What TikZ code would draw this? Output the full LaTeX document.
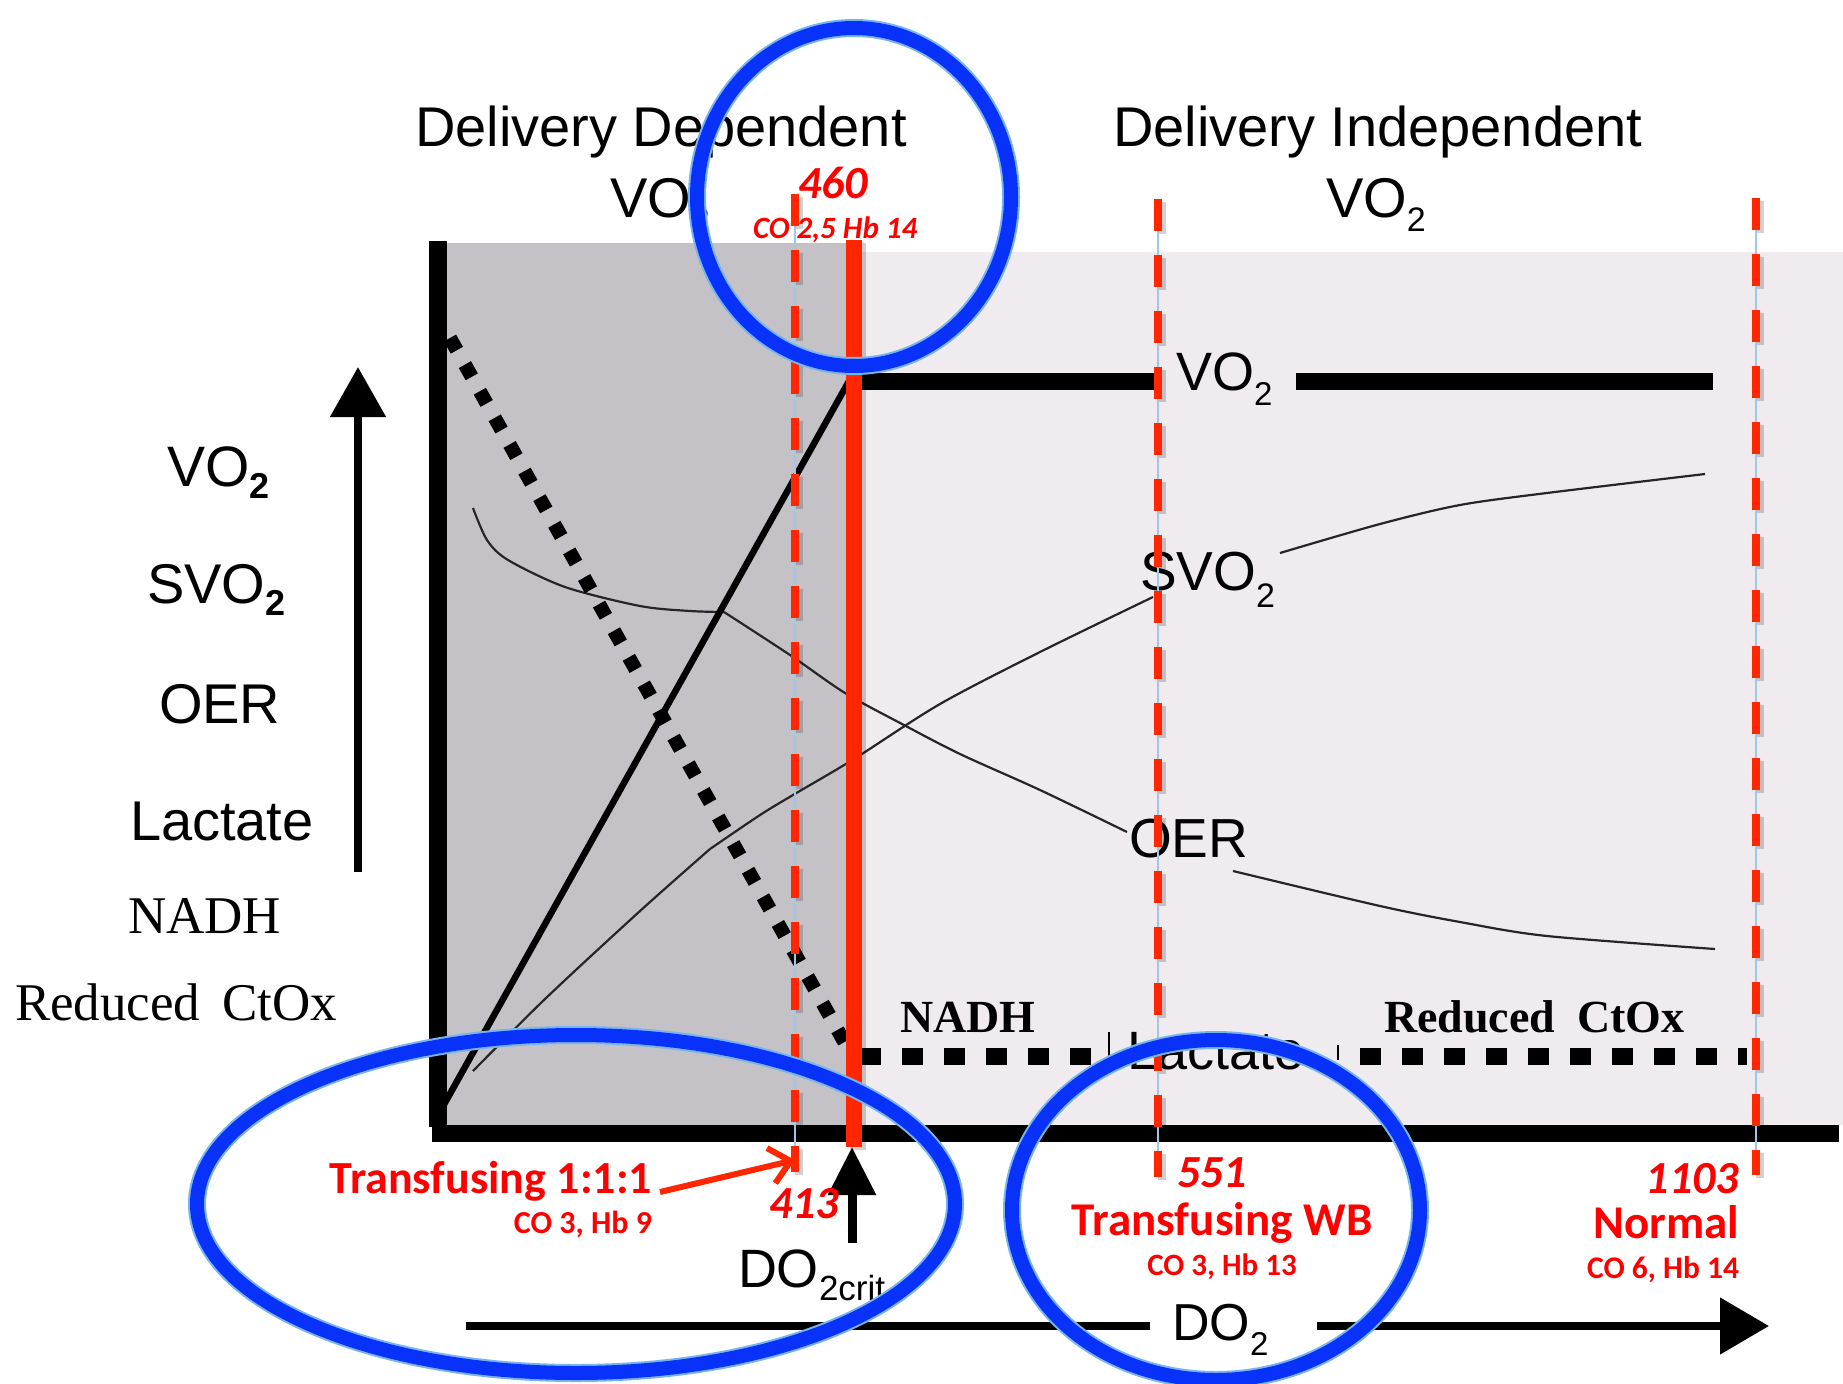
\documentclass[tikz,border=0pt]{standalone}
\usepackage{fontspec}
\setmainfont{Liberation Sans}
\newfontfamily\serifface{Liberation Serif}
\newfontfamily\calfont{Carlito}
\usetikzlibrary{arrows.meta}
\newcommand\fs[1]{\fontsize{#1}{#1}\selectfont}
\newcommand\lowsub[3]{\raisebox{-#1pt}{\fs{#2}#3}}
\definecolor{zoneA}{RGB}{196,194,198}
\definecolor{zoneB}{RGB}{239,235,239}
\definecolor{alertred}{RGB}{255,38,0}
\definecolor{hair}{RGB}{160,200,230}
\definecolor{ring}{RGB}{8,50,250}
\definecolor{ringhalo}{RGB}{120,180,240}
\definecolor{note}{RGB}{255,0,0}
\begin{document}
\begin{tikzpicture}[x=1pt,y=-1pt,
  txt/.style={inner sep=0pt,outer sep=0pt},
  redtxt/.style={txt,text=note},
  guide/.style={alertred,line width=8pt,dash pattern=on 32pt off 24pt},
  guideshadow/.style={black,opacity=0.18,line width=8pt,dash pattern=on 32pt off 24pt},
  hairline/.style={hair,line width=1.2pt},
  curve/.style={black!85,line width=2.2pt,line join=round},
  ringline/.style={ring,line width=14pt},
  ringedge/.style={ringhalo,line width=18pt},
]
\useasboundingbox (0,0) rectangle (1843,1383);
\fill[white] (0,0) rectangle (1843,1383);

% shaded zones
\fill[zoneA] (446,243) rectangle (855,1125);
\fill[zoneB] (855,252) rectangle (1843,1125);

% axes
\fill[black] (429,241) rectangle (447,1127);
\fill[black] (432,1125) rectangle (1839,1142);

% key points of the curves
\coordinate (origin) at (437,1117);
\coordinate (knee) at (849,381);
\coordinate (flatA) at (1154,381);
\coordinate (flatB) at (1296,381);
\coordinate (flatC) at (1713,381);
\coordinate (oerbend) at (724,612);

% thin curves: OER (falling) and SvO2 (rising)
\draw[curve] plot[smooth] coordinates {(473,508) (487,540) (508,560) (565,587) (640,606) (690,611) (724,612)};
\draw[curve] plot[smooth] coordinates {(724,612) (790,655) (845,693) (902,724) (960,754) (1040,790) (1127,832)};
\draw[curve] plot[smooth] coordinates {(1233,871) (1380,906) (1460,922) (1547,936) (1715,949)};
\draw[curve] plot[smooth] coordinates {(473,1071) (545,999) (640,911) (710,849)};
\draw[curve] plot[smooth] coordinates {(710,849) (760,815) (793,795) (854,759) (940,704) (1040,652) (1153,597)};
\draw[curve] plot[smooth] coordinates {(1280,553) (1380,524) (1460,505) (1547,493) (1705,474)};

% VO2: linear rise, then plateau
\draw[line width=6.5pt] (origin) -- (knee);
\draw[line width=17pt] (knee) -- (flatA);
\draw[line width=17pt] (flatB) -- (flatC);

% lactate / NADH / reduced CtOx
\draw[line width=14pt,dash pattern=on 14pt off 16.5pt] (450,338) -- (846,1045);
\draw[line width=17pt,dash pattern=on 21pt off 21pt] (860,1056) -- (1092,1056);
\draw[line width=17pt,dash pattern=on 21pt off 21pt] (1360,1056) -- (1747,1056);
\draw[line width=1.5pt] (1109,1032) -- (1109,1058);
\draw[line width=1.5pt] (1338,1045) -- (1338,1060);

% headings
\node[txt,anchor=base west] (hdep) at (415,147) {\fs{56}Delivery Dependent};
\node[txt,anchor=base west] (hdepvo) at (610,217) {\fs{56}VO\lowsub{14}{34}{2}};
\node[txt,anchor=base west] (hind) at (1113,147) {\fs{56}Delivery Independent};
\node[txt,anchor=base west] (hindvo) at (1326,217) {\fs{56}VO\lowsub{14}{34}{2}};

% left legend
\node[txt,anchor=base west] (lvo) at (167,486) {\fs{57}VO\lowsub{12}{36}{\bfseries 2}};
\node[txt,anchor=base west] (lsvo) at (147,603) {\fs{56}SVO\lowsub{12}{36}{\bfseries 2}};
\node[txt,anchor=base west] (loer) at (159,723) {\fs{56}OER};
\node[txt,anchor=base west] (llac) at (130,840) {\fs{56}Lactate};
\node[txt,anchor=base west] (lnadh) at (128,933) {\serifface\fs{53}NADH};
\node[txt,anchor=base west] (lctox) at (15,1020) {\serifface\fs{53}Reduced\hskip 22pt CtOx};
\draw[line width=8pt,-{Triangle[length=50pt,width=54pt]}] (358,872) -- (358,367);

% curve labels
\node[txt,anchor=base west] (pvo) at (1176,390) {\fs{54}VO\lowsub{15}{33}{2}};
\node[txt,anchor=base west] (psvo) at (1140,590) {\fs{55}SVO\lowsub{17}{34}{2}};
\node[txt,anchor=base west] (poer) at (1129,857) {\fs{55}OER};
\node[txt,anchor=base west] (plac) at (1127,1069) {\fs{54}Lactate};
\node[txt,anchor=base west] (pnadh) at (900,1032) {\serifface\bfseries\fs{46}NADH};
\node[txt,anchor=base west] (pctox) at (1384,1032) {\serifface\bfseries\fs{46}Reduced\hskip 22pt CtOx};

% delivery thresholds
\foreach \gx/\gt/\gb in {795/194/1172, 1158/199/1177, 1756/198/1175} {
  \draw[guideshadow] (\gx+4,\gt+3) -- (\gx+4,\gb+3);
  \draw[hairline] (\gx,\gt) -- (\gx,\gb);
  \draw[guide] (\gx,\gt) -- (\gx,\gb);
}
\draw[black,opacity=0.18,line width=16pt] (858,243) -- (858,1150);
\draw[alertred,line width=16pt] (854,240) -- (854,1147);

% DO2 axis
\node[txt,anchor=base west] (docrit) at (738,1287) {\fs{54}DO\lowsub{13}{35}{2crit}};
\draw[line width=9pt,-{Triangle[length=48pt,width=46pt]}] (852,1243) -- (852,1147);
\node[txt,anchor=base west] (doaxis) at (1172,1340) {\fs{52}DO\lowsub{15}{33}{2}};
\coordinate (axL) at (466,1326);
\coordinate (axM1) at (1150,1326);
\coordinate (axM2) at (1317,1326);
\coordinate (axR) at (1769,1326);
\draw[line width=8pt] (axL) -- (axM1);
\draw[line width=8pt,-{Triangle[length=49pt,width=55pt]}] (axM2) -- (axR);

% annotations
\node[redtxt,anchor=base west] (n460) at (798,198) {\calfont\bfseries\itshape\fs{46}460};
\node[redtxt,anchor=base west] (c460) at (753,238) {\calfont\bfseries\itshape\fs{31}CO 2,5 Hb 14};
\node[redtxt,anchor=base east] (t111) at (652,1193) {\calfont\bfseries\fs{46}Transfusing 1:1:1};
\node[redtxt,anchor=base east] (c111) at (652,1233) {\calfont\bfseries\fs{32}CO 3, Hb 9};
\node[redtxt,anchor=base west] (n413) at (769,1218) {\calfont\bfseries\itshape\fs{46}413};
\node[redtxt,anchor=base west] (n551) at (1177,1187) {\calfont\bfseries\itshape\fs{46}551};
\node[redtxt,anchor=base] (twb) at (1222,1235) {\calfont\bfseries\fs{47}Transfusing WB};
\node[redtxt,anchor=base] (cwb) at (1222,1275) {\calfont\bfseries\fs{31}CO 3, Hb 13};
\node[redtxt,anchor=base east] (n1103) at (1739,1193) {\calfont\bfseries\itshape\fs{46}1103};
\node[redtxt,anchor=base east] (tnorm) at (1739,1238) {\calfont\bfseries\fs{47}Normal};
\node[redtxt,anchor=base east] (cnorm) at (1739,1278) {\calfont\bfseries\fs{31.5}CO 6, Hb 14};
\coordinate (p413) at (795,1160);
\draw[alertred,line width=6pt,-{Straight Barb[length=20pt,width=36pt]}] (t111.base east) ++(8,-1) -- (p413);

% highlight rings
\foreach \cx/\cy/\rx/\ry in {854/197/157/169, 576/1204/379/169, 1216/1210/204/170} {
  \draw[ringedge] (\cx,\cy) ellipse [x radius=\rx pt, y radius=\ry pt];
  \draw[ringline] (\cx,\cy) ellipse [x radius=\rx pt, y radius=\ry pt];
}
\end{tikzpicture}
\end{document}
